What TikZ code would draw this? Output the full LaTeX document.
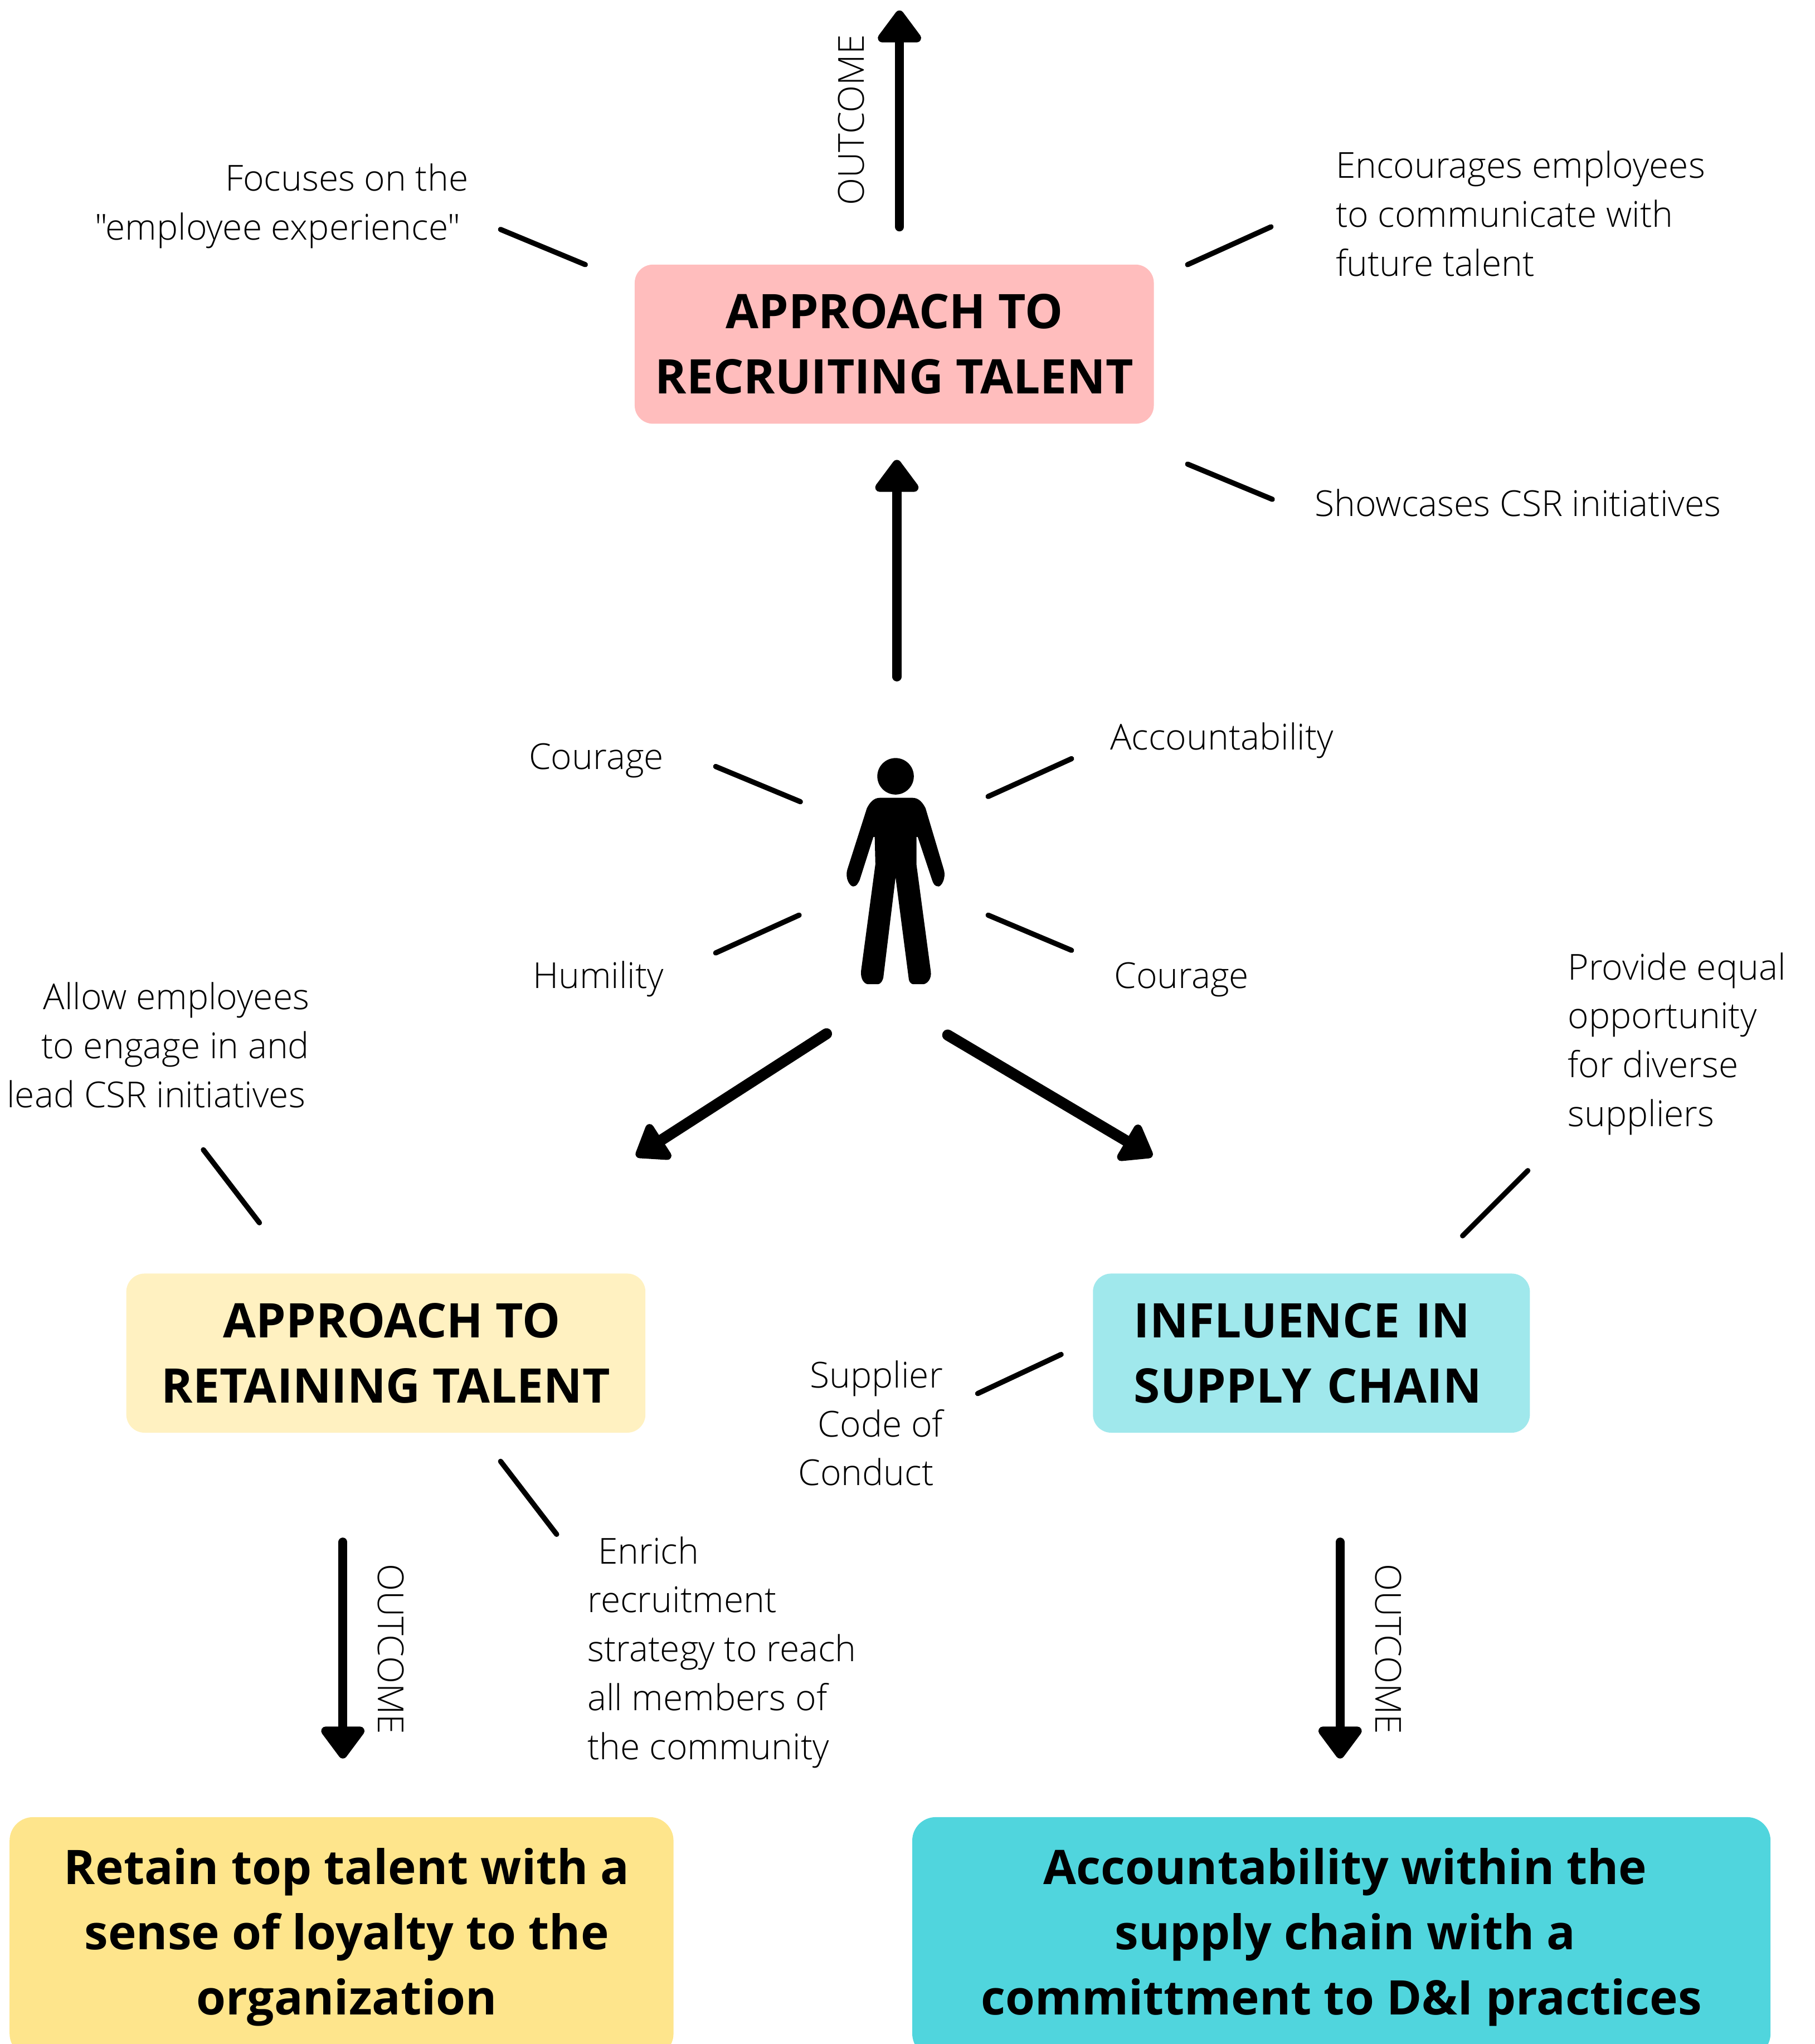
\documentclass[tikz,border=0pt]{standalone}
\usepackage{fontspec}
\setmainfont{Open Sans}
\newfontfamily\lightfont{Open Sans Light}
\usetikzlibrary{positioning,arrows.meta}
\definecolor{pinkbox}{HTML}{FFBDBD}
\definecolor{creambox}{HTML}{FFF1C1}
\definecolor{yellowbox}{HTML}{FEE58C}
\definecolor{aquabox}{HTML}{A0E8EC}
\definecolor{tealbox}{HTML}{50D5DD}
\tikzset{
  titlebox/.style={rectangle, rounded corners=0.14cm, inner sep=0pt, align=center, font=\fontsize{10.4}{14.2}\selectfont\bfseries},
  note/.style={inner sep=0pt, font=\fontsize{7.8}{10.67}\selectfont\lightfont},
  tick/.style={line width=0.04cm, line cap=round},
  bigarrow/.style={line width=0.07cm, line cap=round, -{Triangle[round,length=0.27cm,width=0.38cm]}},
  fatarrow/.style={line width=0.085cm, line cap=round, -{Triangle[round,length=0.26cm,width=0.36cm]}},
}
\begin{document}
\begin{tikzpicture}[x=0.01cm,y=-0.01cm]
    \useasboundingbox (0,0) rectangle (1392,1568);
    \clip (0,0) rectangle (1392,1568);

    %boxes
    \node[titlebox, fill=pinkbox, minimum width=3.98cm, minimum height=1.22cm] (recruit) at (686,264) {APPROACH TO\\RECRUITING TALENT};
    \node[titlebox, fill=creambox, minimum width=3.98cm, minimum height=1.22cm] (retain) at (296,1038) {\hspace{0.09cm}APPROACH TO\\RETAINING TALENT};
    \node[titlebox, fill=aquabox, minimum width=3.35cm, minimum height=1.22cm, text width=2.72cm, align=left] (supply) at (1006,1038) {INFLUENCE IN\\SUPPLY CHAIN};
    \node[titlebox, fill=yellowbox, rounded corners=0.18cm, minimum width=5.09cm, minimum height=1.84cm] (loyalty) at (262,1486) {\hspace{0.08cm}Retain top talent with a\\\hspace{0.08cm}sense of loyalty to the\\\hspace{0.08cm}organization};
    \node[titlebox, fill=tealbox, rounded corners=0.18cm, minimum width=6.58cm, minimum height=1.84cm] (account) at (1029,1486) {\hspace{0.06cm}Accountability within the\\\hspace{0.06cm}supply chain with a\\committment to D\&I practices};

    %omino
    \node[minimum width=0.76cm, minimum height=1.74cm, inner sep=0pt] (person) at (687,668) {};
    \fill (687,595.5) circle [x radius=14, y radius=14];
    \fill (675,612) -- (700,612) .. controls (705,612) and (708,616) .. (710,620)
      -- (724,667) .. controls (726,674) and (722,680) .. (720,680)
      .. controls (717,680) and (716,678) .. (715,675) -- (704,642) -- (703,642) -- (703,663)
      -- (714,745) .. controls (715,751) and (711,755) .. (708,755) -- (701,755)
      .. controls (698,755) and (697,752) .. (697,750) -- (687,673)
      -- (677.6,750) .. controls (677,752) and (676,755) .. (673,755) -- (666,755)
      .. controls (663,755) and (660,751) .. (660.5,745) -- (671.5,663) -- (671,642) -- (670,642)
      -- (659.5,675) .. controls (658,678) and (657,680) .. (654.5,680)
      .. controls (652,680) and (648,674) .. (650,667) -- (665,620)
      .. controls (667,616) and (670,612) .. (675,612) -- cycle;

    %free ends
    \coordinate (leftArrowA) at (634,793);
    \coordinate (leftArrowB) at (488,887);
    \coordinate (rightArrowA) at (727,794);
    \coordinate (rightArrowB) at (884,887);
    \coordinate (topArrowA) at (690,174);
    \coordinate (topArrowB) at (690,8);
    \coordinate (retainArrowA) at (263,1183);
    \coordinate (retainArrowB) at (263,1349);
    \coordinate (supplyArrowA) at (1028,1183);
    \coordinate (supplyArrowB) at (1028,1349);

    %frecce
    \draw[bigarrow, shorten <=0.61cm, shorten >=0.27cm] ([xshift=0.01cm]person.north) -- ([xshift=0.01cm]person.north |- recruit.south);
    \draw[bigarrow] (topArrowA) -- (topArrowB);
    \draw[fatarrow] (leftArrowA) -- (leftArrowB);
    \draw[fatarrow] (rightArrowA) -- (rightArrowB);
    \draw[bigarrow] (retainArrowA) -- (retainArrowB);
    \draw[bigarrow] (supplyArrowA) -- (supplyArrowB);

    \node[note, rotate=90] (outA) at (653,92) {OUTCOME};
    \node[note, rotate=-90] (outB) at (300,1265) {OUTCOME};
    \node[note, rotate=-90] (outC) at (1065,1265) {OUTCOME};

    %testi
    \node[note, align=right, anchor=north east] (focus) at (360,125) {Focuses on the\\"employee experience"\kern 0.06cm};
    \node[note, align=left, anchor=north west] (encourage) at (1024,115) {Encourages employees\\to communicate with\\future talent};
    \node[note, anchor=base west] (showcase) at (1008,396) {Showcases CSR initiatives};
    \node[note, anchor=base west] (courageA) at (405,590) {Courage};
    \node[note, anchor=base west] (accountab) at (851,575) {Accountability};
    \node[note, anchor=base west] (humility) at (408,758) {Humility};
    \node[note, anchor=base west] (courageB) at (854,758) {Courage};
    \node[note, align=right, anchor=north east] (allow) at (238,753) {Allow employees\\to engage in and\\lead CSR initiatives\kern 0.03cm};
    \node[note, align=left, anchor=north west] (provide) at (1202,730) {Provide equal\\opportunity\\for diverse\\suppliers};
    \node[note, align=right, anchor=north east] (code) at (724,1043) {Supplier\\Code of\\Conduct\kern 0.07cm};
    \node[note, align=left, anchor=north west] (enrich) at (450,1178) {\kern 0.08cm Enrich\\recruitment\\strategy to reach\\all members of\\the community};

    %trattini
    \draw[tick] (384,176) -- (449,203);
    \draw[tick] (911,203) -- (975,174);
    \draw[tick] (911,356) -- (976,383);
    \draw[tick] (549,588) -- (614,615);
    \draw[tick] (758,611) -- (822,582);
    \draw[tick] (549,731) -- (613,702);
    \draw[tick] (758,702) -- (822,729);
    \draw[tick] (156,882) -- (199,938);
    \draw[tick] (1122,948) -- (1172,898);
    \draw[tick] (750,1069) -- (814,1039);
    \draw[tick] (384,1121) -- (427,1177);
\end{tikzpicture}
\end{document}
